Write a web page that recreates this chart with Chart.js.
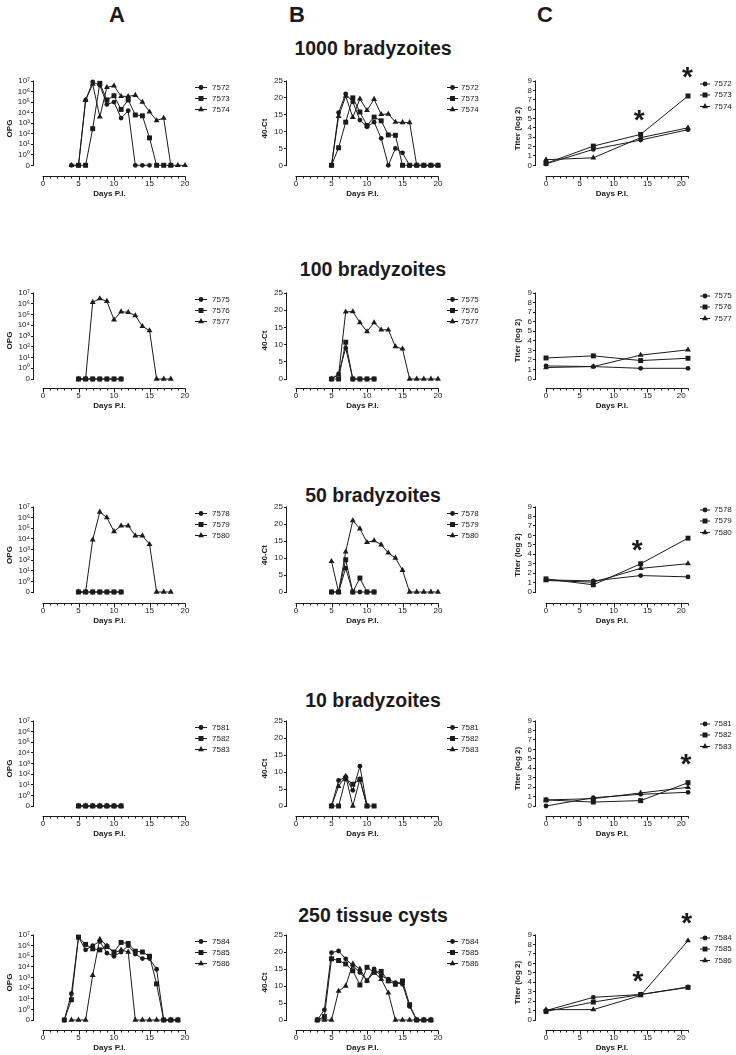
<!DOCTYPE html>
<html>
<head>
<meta charset="utf-8">
<script src="https://cdn.jsdelivr.net/npm/chart.js@4.4.1/dist/chart.umd.min.js"></script>
<style>
  html, body { margin: 0; padding: 0; background: #fff; }
  body { width: 736px; height: 1055px; position: relative; overflow: hidden;
         font-family: "Liberation Sans", Arial, Helvetica, sans-serif; color: #1b1b1b; }
  .hdr { position: absolute; font-weight: bold; font-size: 22px; line-height: 22px; white-space: nowrap; transform: translateX(-50%); }
  .ttl { position: absolute; font-weight: bold; font-size: 19.5px; line-height: 20px; white-space: nowrap; transform: translateX(-50%); }
  canvas { position: absolute; }
</style>
</head>
<body>
<script>
// ===================== DATA =====================
const columnLetters = ['A', 'B', 'C'];
const rowTitles = ['1000 bradyzoites', '100 bradyzoites', '50 bradyzoites', '10 bradyzoites', '250 tissue cysts'];
const yTitles = ['OPG', '40-Ct', 'Titer (log 2)'];
const xTitle = 'Days P.I.';

// tick values / labels
const opgTickValues = [-1, 0, 1, 2, 3, 4, 5, 6, 7];          // -1 = Prism "0" position
const opgTickLabels = ['0', '10⁰', '10¹', '10²', '10³', '10⁴', '10⁵', '10⁶', '10⁷'];
const ctTickValues = [0, 5, 10, 15, 20, 25];
const titerTickValues = [0, 1, 2, 3, 4, 5, 6, 7, 8, 9];
const dayTickLabels = [0, 5, 10, 15, 20];

// day arrays
const days3to19 = [3, 4, 5, 6, 7, 8, 9, 10, 11, 12, 13, 14, 15, 16, 17, 18, 19];
const days4to15 = [4, 5, 6, 7, 8, 9, 10, 11, 12, 13, 14, 15];
const days4to19 = [4, 5, 6, 7, 8, 9, 10, 11, 12, 13, 14, 15, 16, 17, 18, 19];
const days4to20 = [4, 5, 6, 7, 8, 9, 10, 11, 12, 13, 14, 15, 16, 17, 18, 19, 20];
const days5to10 = [5, 6, 7, 8, 9, 10];
const days5to11 = [5, 6, 7, 8, 9, 10, 11];
const days5to18 = [5, 6, 7, 8, 9, 10, 11, 12, 13, 14, 15, 16, 17, 18];
const days5to20 = [5, 6, 7, 8, 9, 10, 11, 12, 13, 14, 15, 16, 17, 18, 19, 20];
const titerDays = [0, 7, 14, 21];

// ---- Row 1: 1000 bradyzoites ----
const mice1 = ['7572', '7573', '7574'];
const opg7572 = [0, 0, 1.5e5, 8e6, 4e6, 6e4, 1e5, 3e3, 1.5e4, 0, 0, 0];
const opg7573 = [0, 0, 3e2, 6e6, 1.6e5, 4e5, 2e4, 1.6e5, 6e3, 5e3, 40, 0, 0, 0];
const opg7574 = [0, 0, 1.5e5, 5e6, 4e3, 2.5e6, 3.5e6, 3.5e5, 3.5e5, 4.5e5, 1e5, 1.2e4, 1.8e3, 3e3, 0, 0, 0];
const ct7572 = [0, 15.6, 21.2, 18.8, 13.4, 11.4, 12.8, 8.0, 0, 5.0, 3.7, 0, 0, 0, 0, 0];
const ct7573 = [0, 5.2, 12.8, 20.0, 15.8, 11.8, 14.3, 13.2, 9.0, 8.9, 0, 0, 0, 0, 0, 0];
const ct7574 = [0, 14.5, 20.5, 14.2, 19.7, 16.3, 19.6, 15.1, 15.2, 12.8, 12.7, 12.7, 0, 0, 0, 0];
const titer7572 = [0.15, 1.7, 2.7, 3.8];
const titer7573 = [0.2, 2.05, 3.3, 7.4];
const titer7574 = [0.6, 0.8, 2.95, 4.0];
const stars1 = [[13.8, 5.6], [20.9, 10.2]];

// ---- Row 2: 100 bradyzoites ----
const mice2 = ['7575', '7576', '7577'];
const opg7575 = [0, 0, 0, 0, 0, 0, 0];
const opg7576 = [0, 0, 0, 0, 0, 0, 0];
const opg7577 = [0, 0, 1.4e6, 3e6, 1.7e6, 3.3e4, 1.8e5, 1.6e5, 8e4, 8e3, 3.2e3, 0, 0, 0];
const ct7575 = [0, 1.5, 9.0, 0, 0, 0, 0];
const ct7576 = [0, 0, 10.7, 0, 0, 0, 0];
const ct7577 = [0, 1.2, 19.5, 19.6, 16.4, 13.8, 16.4, 14.3, 14.3, 9.4, 8.75, 0, 0, 0, 0, 0];
const titer7575 = [1.37, 1.3, 1.12, 1.12];
const titer7576 = [2.2, 2.42, 1.93, 2.17];
const titer7577 = [1.2, 1.3, 2.5, 3.05];
const stars2 = [];

// ---- Row 3: 50 bradyzoites ----
const mice3 = ['7578', '7579', '7580'];
const opg7578 = [0, 0, 0, 0, 0, 0, 0];
const opg7579 = [0, 0, 0, 0, 0, 0, 0];
const opg7580 = [0, 0, 8e3, 3.4e6, 1e6, 5e4, 1.7e5, 1.7e5, 2e4, 2e4, 3.1e3, 0, 0, 0];
const ct7578 = [0, 0, 7.0, 0, 0, 0, 0];
const ct7579 = [0, 0, 9.5, 0, 4.1, 0, 0];
const ct7580 = [9.0, 0, 11.8, 21.0, 18.6, 14.6, 15.1, 13.9, 11.5, 10.0, 6.4, 0, 0, 0, 0, 0];
const titer7578 = [1.28, 1.18, 1.74, 1.6];
const titer7579 = [1.39, 0.76, 2.99, 5.7];
const titer7580 = [1.22, 1.04, 2.5, 3.0];
const stars3 = [[13.5, 5.2]];

// ---- Row 4: 10 bradyzoites ----
const mice4 = ['7581', '7582', '7583'];
const opg7581 = [0, 0, 0, 0, 0, 0, 0];
const opg7582 = [0, 0, 0, 0, 0, 0, 0];
const opg7583 = [0, 0, 0, 0, 0, 0, 0];
const ct7581 = [0, 7.5, 8.5, 4.6, 11.7, 0];
const ct7582 = [0, 0, 8.0, 6.4, 7.8, 0, 0];
const ct7583 = [0, 5.8, 8.8, 0, 7.9, 0];
const titer7581 = [0.0, 0.88, 1.24, 1.45];
const titer7582 = [0.64, 0.42, 0.57, 2.47];
const titer7583 = [0.64, 0.78, 1.38, 1.98];
const stars4 = [[20.7, 5.2]];

// ---- Row 5: 250 tissue cysts ----
const mice5 = ['7584', '7585', '7586'];
const opg7584 = [0, 30, 6.3e6, 4e5, 1e6, 2.5e6, 2e5, 1e5, 2.5e5, 1e6, 1.6e5, 6e4, 6e4, 6e3, 0, 0, 0];
const opg7585 = [0, 8, 6.3e6, 1.3e6, 5e5, 4e5, 8e5, 2.5e5, 2e6, 1.6e6, 3e5, 2.5e5, 1e5, 250, 0, 0, 0];
const opg7586 = [0, 0, 0, 1.6e3, 4e6, 1e6, 2e5, 4e5, 2.5e5, 0, 0, 0, 0, 0, 0, 0];
const ct7584 = [0, 3.0, 19.8, 20.3, 18.0, 16.0, 14.0, 11.5, 15.0, 13.0, 12.0, 11.0, 10.5, 4.0, 0, 0, 0];
const ct7585 = [0, 1.0, 18.0, 17.5, 16.5, 14.5, 10.3, 15.5, 14.0, 14.3, 11.5, 10.5, 11.5, 4.5, 0, 0, 0];
const ct7586 = [0, 0, 0, 8.5, 10.0, 16.5, 15.0, 11.5, 14.0, 12.0, 8.0, 0, 0, 0, 0, 0, 0];
const titer7584 = [1.0, 2.4, 2.7, 3.5];
const titer7585 = [0.9, 1.9, 2.7, 3.45];
const titer7586 = [1.1, 1.1, 2.6, 8.4];
const stars5 = [[13.6, 4.9], [20.8, 11.0]];

const rows = [
  { ids: mice1, stars: stars1,
    A: [[days4to15, opg7572], [days5to18, opg7573], [days4to20, opg7574]],
    B: [[days5to20, ct7572], [days5to20, ct7573], [days5to20, ct7574]],
    C: [[titerDays, titer7572], [titerDays, titer7573], [titerDays, titer7574]] },
  { ids: mice2, stars: stars2,
    A: [[days5to11, opg7575], [days5to11, opg7576], [days5to18, opg7577]],
    B: [[days5to11, ct7575], [days5to11, ct7576], [days5to20, ct7577]],
    C: [[titerDays, titer7575], [titerDays, titer7576], [titerDays, titer7577]] },
  { ids: mice3, stars: stars3,
    A: [[days5to11, opg7578], [days5to11, opg7579], [days5to18, opg7580]],
    B: [[days5to11, ct7578], [days5to11, ct7579], [days5to20, ct7580]],
    C: [[titerDays, titer7578], [titerDays, titer7579], [titerDays, titer7580]] },
  { ids: mice4, stars: stars4,
    A: [[days5to11, opg7581], [days5to11, opg7582], [days5to11, opg7583]],
    B: [[days5to10, ct7581], [days5to11, ct7582], [days5to10, ct7583]],
    C: [[titerDays, titer7581], [titerDays, titer7582], [titerDays, titer7583]] },
  { ids: mice5, stars: stars5,
    A: [[days3to19, opg7584], [days3to19, opg7585], [days4to19, opg7586]],
    B: [[days3to19, ct7584], [days3to19, ct7585], [days3to19, ct7586]],
    C: [[titerDays, titer7584], [titerDays, titer7585], [titerDays, titer7586]] }
];

// ===================== LAYOUT / STYLE =====================
const INK = '#1b1b1b';
const FONT = '"Liberation Sans", Arial, Helvetica, sans-serif';
Chart.defaults.font.family = FONT;
Chart.defaults.font.size = 8;
Chart.defaults.color = INK;

const rowTopPx = [81, 293, 507, 721, 935];       // pixel of the top y tick
const rowZeroPx = [165.3, 379, 592, 806, 1020];  // pixel of the lowest y tick
const rowAxisPx = [176, 388, 603, 816, 1030];    // pixel of the x axis line
const rowTitleBase = [55, 276, 502, 707, 922];   // baseline of row titles
const headerX = [117, 297, 545];
const headerBase = 23;

const cols = [
  { L: 0,   W: 244, yAxisX: 34,  x0: 43,  xEnd: 185, xMax: 20, yTitleX: 10,
    lg: { x1: 195, x2: 207, tx: 212, dy: [6.5, 17.5, 28.5] } },
  { L: 244, W: 246, yAxisX: 287, x0: 296, xEnd: 438, xMax: 20, yTitleX: 265,
    lg: { x1: 447, x2: 458, tx: 461, dy: [6.5, 17.5, 28.5] } },
  { L: 490, W: 246, yAxisX: 536, x0: 546, xEnd: 688, xMax: 21, yTitleX: 518,
    lg: { x1: 700, x2: 710, tx: 714, dy: [3, 14, 25.5] } }
];

const kinds = [
  { key: 'A', yBase: -1, yMax: 7, ticks: opgTickValues,
    label: v => opgTickLabels[opgTickValues.indexOf(v)],
    map: v => (v > 0 ? Math.log10(v) : -1) },
  { key: 'B', yBase: 0, yMax: 25, ticks: ctTickValues, label: v => String(v), map: v => v },
  { key: 'C', yBase: 0, yMax: 9, ticks: titerTickValues, label: v => String(v), map: v => v }
];

const pointStyles = ['circle', 'rect', 'triangle'];
const pointRadii = [2.4, 3.5, 3.4];

function drawMarker(ctx, style, r, x, y) {
  ctx.beginPath();
  if (style === 'circle') {
    ctx.arc(x, y, r, 0, Math.PI * 2);
  } else if (style === 'rect') {
    const s = Math.SQRT1_2 * r;
    ctx.rect(x - s, y - s, 2 * s, 2 * s);
  } else {
    for (let i = 0; i < 3; i++) {
      const a = i * 2 * Math.PI / 3;
      const px = x + Math.sin(a) * r, py = y - Math.cos(a) * r;
      if (i) ctx.lineTo(px, py); else ctx.moveTo(px, py);
    }
    ctx.closePath();
  }
  ctx.fill();
}

const axesPlugin = {
  id: 'prismAxes',
  afterDraw(chart, args, o) {
    const ctx = chart.ctx, xs = chart.scales.x, ys = chart.scales.y, area = chart.chartArea;
    ctx.save();
    ctx.strokeStyle = INK;
    ctx.lineWidth = 1;
    const ax = Math.round(area.left) - 0.5;
    ctx.beginPath();
    ctx.moveTo(ax, ys.getPixelForValue(o.yTop) - 0.5);
    ctx.lineTo(ax, ys.getPixelForValue(o.yBase) + 0.5);
    ctx.stroke();
    const ay = Math.round(area.bottom) + 0.5;
    ctx.beginPath();
    ctx.moveTo(xs.getPixelForValue(0) - 0.5, ay);
    ctx.lineTo(xs.getPixelForValue(o.xMax) + 0.5, ay);
    ctx.stroke();
    xs.ticks.forEach(t => {
      const px = Math.round(xs.getPixelForValue(t.value)) + 0.5;
      const len = t.major ? 4 : 2;
      ctx.beginPath();
      ctx.moveTo(px, ay);
      ctx.lineTo(px, ay + len);
      ctx.stroke();
    });
    ctx.restore();
  }
};

const legendPlugin = {
  id: 'prismLegend',
  afterDraw(chart, args, o) {
    const ctx = chart.ctx;
    ctx.save();
    chart.data.datasets.forEach((ds, i) => {
      const y = o.y0 + o.dy[i];
      ctx.strokeStyle = INK;
      ctx.fillStyle = INK;
      ctx.lineWidth = 1;
      ctx.beginPath();
      ctx.moveTo(o.x1, y);
      ctx.lineTo(o.x2, y);
      ctx.stroke();
      drawMarker(ctx, ds.pointStyle, ds.pointRadius, (o.x1 + o.x2) / 2, y);
      ctx.font = '8px ' + FONT;
      ctx.textAlign = 'left';
      ctx.textBaseline = 'middle';
      ctx.fillText(ds.label, o.tx, y);
    });
    ctx.restore();
  }
};

const starsPlugin = {
  id: 'stars',
  afterDraw(chart, args, o) {
    if (!o.points || !o.points.length) return;
    const ctx = chart.ctx, xs = chart.scales.x, ys = chart.scales.y;
    const size = 28;
    ctx.save();
    ctx.fillStyle = INK;
    ctx.font = 'bold ' + size + 'px ' + FONT;
    ctx.textAlign = 'center';
    ctx.textBaseline = 'alphabetic';
    o.points.forEach(([d, v]) => {
      ctx.fillText('*', xs.getPixelForValue(d), ys.getPixelForValue(v) + 0.575 * size);
    });
    ctx.restore();
  }
};

// ===================== BUILD =====================
columnLetters.forEach((letter, c) => {
  const d = document.createElement('div');
  d.className = 'hdr';
  d.textContent = letter;
  d.style.left = headerX[c] + 'px';
  d.style.top = (headerBase - 18.6) + 'px';
  document.body.appendChild(d);
});

rowTitles.forEach((t, r) => {
  const d = document.createElement('div');
  d.className = 'ttl';
  d.textContent = t;
  d.style.left = '373px';
  d.style.top = (rowTitleBase[r] - 16.8) + 'px';
  document.body.appendChild(d);
});

rows.forEach((row, r) => {
  cols.forEach((col, c) => {
    const kind = kinds[c];
    const T = rowTopPx[r] - 34;
    const H = rowAxisPx[r] + 26 - T;
    const top = rowTopPx[r] - T, bottom = rowAxisPx[r] - T, zero = rowZeroPx[r] - T;
    const g = (bottom - zero) / (bottom - top);
    const yMin = (kind.yBase - g * kind.yMax) / (1 - g);
    const f = (col.x0 - col.yAxisX) / (col.xEnd - col.yAxisX);
    const xMin = -f * col.xMax / (1 - f);

    const cv = document.createElement('canvas');
    cv.width = col.W; cv.height = H;
    cv.style.left = col.L + 'px'; cv.style.top = T + 'px';
    cv.style.width = col.W + 'px'; cv.style.height = H + 'px';
    document.body.appendChild(cv);

    const series = row[kind.key];
    const dayTicks = [];
    for (let dd = 0; dd <= col.xMax; dd++) dayTicks.push({ value: dd, major: dayTickLabels.includes(dd) });

    new Chart(cv, {
      type: 'line',
      data: {
        datasets: series.map((s, k) => ({
          label: row.ids[k],
          data: s[0].map((day, i) => ({ x: day, y: kind.map(s[1][i]) })),
          borderColor: INK,
          backgroundColor: INK,
          borderWidth: 1,
          pointStyle: pointStyles[k],
          pointRadius: pointRadii[k],
          pointHoverRadius: pointRadii[k],
          pointBorderWidth: 0,
          pointBackgroundColor: INK,
          tension: 0,
          fill: false,
          clip: false
        }))
      },
      options: {
        responsive: false,
        animation: false,
        devicePixelRatio: 1,
        events: [],
        layout: { padding: { left: 0, top: top, right: col.W - (col.xEnd - col.L), bottom: 0 } },
        plugins: {
          legend: { display: false },
          tooltip: { enabled: false },
          prismAxes: { yTop: kind.yMax, yBase: kind.yBase, xMax: col.xMax },
          prismLegend: { x1: col.lg.x1 - col.L, x2: col.lg.x2 - col.L, tx: col.lg.tx - col.L, y0: top, dy: col.lg.dy },
          stars: { points: c === 2 ? row.stars : [] }
        },
        scales: {
          x: {
            type: 'linear', min: xMin, max: col.xMax,
            afterFit: s => { s.height = 26; },
            afterBuildTicks: s => { s.ticks = dayTicks.map(t => ({ value: t.value, major: t.major })); },
            grid: { display: false, drawTicks: true, tickLength: 3 },
            border: { display: false },
            ticks: { autoSkip: false, maxRotation: 0, minRotation: 0, padding: 0, color: INK, font: { size: 8 },
                     callback: v => (dayTickLabels.includes(v) ? String(v) : '') },
            title: { display: true, text: xTitle, color: INK, font: { size: 8, weight: 'bold' },
                     padding: { top: 0, bottom: 3.7 } }
          },
          y: {
            type: 'linear', min: yMin, max: kind.yMax,
            afterFit: s => { s.width = col.yAxisX - col.L; },
            afterBuildTicks: s => { s.ticks = kind.ticks.map(v => ({ value: v })); },
            grid: { display: true, drawOnChartArea: false, drawTicks: true, tickLength: 3, color: INK, lineWidth: 1 },
            border: { display: false },
            ticks: { autoSkip: false, padding: 1, color: INK, font: { size: 8 }, callback: v => kind.label(v) },
            title: { display: true, text: yTitles[c], color: INK, font: { size: 8, weight: 'bold' },
                     padding: { top: col.yTitleX - col.L - 4.8, bottom: 0 } }
          }
        }
      },
      plugins: [axesPlugin, legendPlugin, starsPlugin]
    });
  });
});
</script>
</body>
</html>
